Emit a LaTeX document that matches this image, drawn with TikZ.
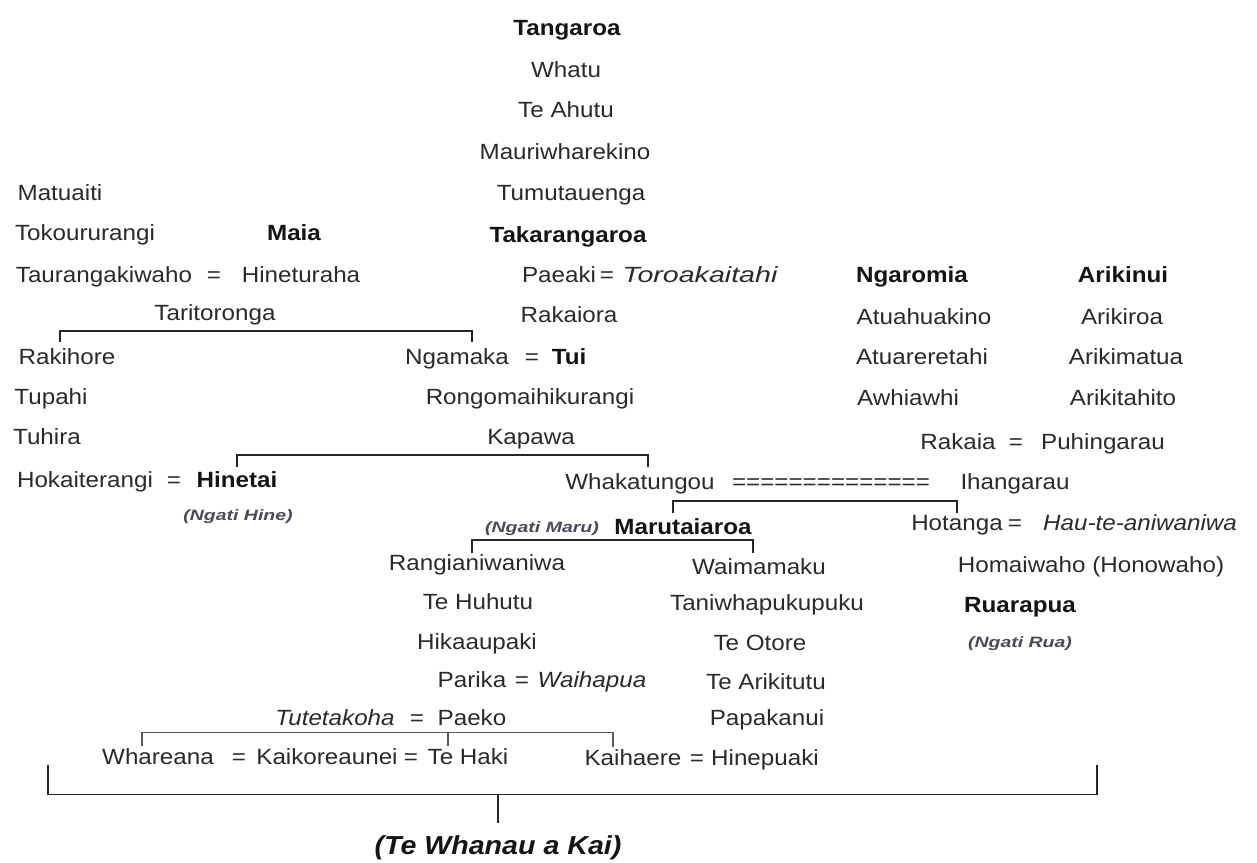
\documentclass[tikz,border=0pt]{standalone}
\usepackage{fontspec}
\setmainfont{Liberation Sans}[FakeStretch=1.1]
\newfontfamily\tribefont{Liberation Sans}[FakeStretch=1.3]
\newfontfamily\widefont{Liberation Sans}[FakeStretch=1.3]
\definecolor{ink}{HTML}{2A2A2A}
\definecolor{inkdark}{HTML}{141414}
\definecolor{inksoft}{HTML}{4A4A5A}
\definecolor{rule}{HTML}{262626}
\definecolor{rulesoft}{HTML}{5A5A5A}

\begin{document}
\begin{tikzpicture}[x=1pt,y=-1pt,
  every node/.style={inner sep=0pt, text height=15.75pt, text depth=0pt, anchor=center},
  nm/.style={font=\fontsize{22}{26}\selectfont, text=ink},
  bnm/.style={font=\fontsize{22}{26}\selectfont\bfseries, text=inkdark},
  inm/.style={font=\fontsize{22}{26}\selectfont\itshape, text=ink},
  winm/.style={font=\widefont\fontsize{22}{26}\selectfont\itshape, text=ink},
  tribe/.style={font=\tribefont\fontsize{15}{18}\selectfont\bfseries\itshape, text=inksoft, text height=10.7pt},
  clan/.style={font=\fontsize{26}{30}\selectfont\bfseries\itshape, text=inkdark, text height=18.6pt},
  conn/.style={draw=rule, line width=1.6pt},
  thinconn/.style={draw=rulesoft, line width=1.1pt},
]
\fill[white] (0,0) rectangle (1257,862);
\useasboundingbox (0,0) rectangle (1257,862);

% --- central line from Tangaroa ---
\node[bnm] (tangaroa) at (567,28) {Tangaroa};
\node[nm]  (whatu)    at (566,70) {Whatu};
\node[nm]  (teahutu)  at (566,110) {Te Ahutu};
\node[nm]  (mauri)    at (565,152) {Mauriwharekino};
\node[nm]  (tumu)     at (571,193) {Tumutauenga};
\node[bnm] (takara)   at (568,235) {Takarangaroa};
\node[nm]  (paeaki)   at (559,275) {Paeaki};
\node[nm]  (eqPaeaki) at (607,275) {=};
\node[winm] (toroa)   at (700,275) {Toroakaitahi};
\node[nm]  (rakaiora) at (569,315) {Rakaiora};
\node[nm]  (ngamaka)  at (457,357) {Ngamaka};
\node[nm]  (eqNgamaka) at (532,357) {=};
\node[bnm] (tui)      at (569,357) {Tui};
\node[nm]  (rongo)    at (530,397) {Rongomaihikurangi};
\node[nm]  (kapawa)   at (531,437) {Kapawa};

% --- left line ---
\node[nm]  (matuaiti) at (60,193) {Matuaiti};
\node[nm]  (tokou)    at (85,233) {Tokoururangi};
\node[bnm] (maia)     at (294,233) {Maia};
\node[nm]  (tauranga) at (104,275) {Taurangakiwaho};
\node[nm]  (eqTaur)   at (214,275) {=};
\node[nm]  (hinet)    at (301,275) {Hineturaha};
\node[nm]  (taritoronga) at (215,313) {Taritoronga};
\node[nm]  (rakihore) at (67,357) {Rakihore};
\node[nm]  (tupahi)   at (51,397) {Tupahi};
\node[nm]  (tuhira)   at (47,437) {Tuhira};
\node[nm]  (hokai)    at (85,480) {Hokaiterangi};
\node[nm]  (eqHoka)   at (174,480) {=};
\node[bnm] (hinetai)  at (237,480) {Hinetai};
\node[tribe] (ngatihine) at (238,515) {(Ngati Hine)};

% --- right lines ---
\node[bnm] (ngaromia)    at (912,275) {Ngaromia};
\node[bnm] (arikinui)    at (1123,275) {Arikinui};
\node[nm]  (atuahuakino) at (924,317) {Atuahuakino};
\node[nm]  (arikiroa)    at (1122,317) {Arikiroa};
\node[nm]  (atuarere)    at (922,357) {Atuareretahi};
\node[nm]  (arikimatua)  at (1126,357) {Arikimatua};
\node[nm]  (awhiawhi)    at (908,398) {Awhiawhi};
\node[nm]  (arikitahito) at (1123,398) {Arikitahito};
\node[nm]  (rakaia)      at (958,442) {Rakaia};
\node[nm]  (eqRakaia)    at (1016,442) {=};
\node[nm]  (puhingarau)  at (1103,442) {Puhingarau};

% --- Whakatungou and Ihangarau ---
\node[nm]  (whakat)    at (640,482) {Whakatungou};
\node[nm]  (marriage)  at (831,482) {==============};
\node[nm]  (ihangarau) at (1015,482) {Ihangarau};

\node[tribe] (ngatimaru) at (542,527) {(Ngati Maru)};
\node[bnm] (marutaiaroa) at (683,527) {Marutaiaroa};
\node[nm]  (hotanga)   at (957,523) {Hotanga};
\node[nm]  (eqHotanga) at (1015,523) {=};
\node[inm] (hau)       at (1140,523) {Hau-te-aniwaniwa};
\node[nm]  (homaiwaho) at (1091,565) {Homaiwaho (Honowaho)};
\node[bnm] (ruarapua)  at (1020,605) {Ruarapua};
\node[tribe] (ngatirua) at (1020,642) {(Ngati Rua)};

% --- descendants of Marutaiaroa ---
\node[nm]  (rangi)      at (477,563) {Rangianiwaniwa};
\node[nm]  (tehuhutu)   at (478,602) {Te Huhutu};
\node[nm]  (hikaau)     at (477,642) {Hikaaupaki};
\node[nm]  (parika)     at (472,680) {Parika};
\node[nm]  (eqParika)   at (522,680) {=};
\node[inm] (waihapua)   at (592,680) {Waihapua};
\node[inm] (tutetakoha) at (335,718) {Tutetakoha};
\node[nm]  (eqTute)     at (417,718) {=};
\node[nm]  (paeko)      at (472,718) {Paeko};

\node[nm]  (waimamaku)  at (759,567) {Waimamaku};
\node[nm]  (taniwha)    at (767,603) {Taniwhapukupuku};
\node[nm]  (teotore)    at (760,643) {Te Otore};
\node[nm]  (tearikitutu) at (766,682) {Te Arikitutu};
\node[nm]  (papakanui)  at (767,718) {Papakanui};

\node[nm]  (whareana)   at (158,757) {Whareana};
\node[nm]  (eqWhare)    at (239,757) {=};
\node[nm]  (kaikore)    at (327,757) {Kaikoreaunei};
\node[nm]  (eqKaikore)  at (411,757) {=};
\node[nm]  (tehaki)     at (468,757) {Te Haki};
\node[nm]  (kaihaere)   at (633,758) {Kaihaere};
\node[nm]  (eqKaihaere) at (697,758) {=};
\node[nm]  (hinepuaki)  at (765,758) {Hinepuaki};

\node[clan] (whanau) at (498,845) {(Te Whanau a Kai)};

% --- connectors ---
% children of Taritoronga
\draw[conn] ([xshift=-7pt,yshift=7pt]rakihore.north) |- ([yshift=-10pt]taritoronga.south)
  -| ([xshift=15pt,yshift=7pt]ngamaka.north);
% children of Kapawa
\draw[conn] ([yshift=5pt]hinetai.north) |- ([yshift=-10pt]kapawa.south)
  -| ([xshift=8pt,yshift=7pt]whakat.north);
% children of Whakatungou and Ihangarau
\draw[conn] ([xshift=-10pt,yshift=6pt]marutaiaroa.north) |- ([yshift=-11pt]marriage.south)
  -| ([yshift=2pt]hotanga.north);
% children of Marutaiaroa
\draw[conn] ([xshift=-5pt,yshift=2pt]rangi.north) |- ([yshift=-5pt]marutaiaroa.south)
  -| ([xshift=-6pt,yshift=6pt]waimamaku.north);
% children of Tutetakoha and Paeko
\draw[thinconn] ([xshift=-16pt,yshift=3pt]whareana.north) |- ([yshift=-6pt]eqTute.south)
  -| ([xshift=-20pt,yshift=3pt]kaihaere.north);
\draw[thinconn] ([xshift=-20pt,yshift=3pt]tehaki.north) |- ([yshift=-6pt]eqTute.south);
% all lines meet in Te Whanau a Kai
\coordinate (leftEnd) at (48,765);
\coordinate (rightEnd) at (1097,765);
\draw[conn] (leftEnd) |- ([yshift=41pt]whanau.north) -| (rightEnd);
\draw[conn] ([yshift=41pt]whanau.north) -- ([yshift=13pt]whanau.north);
\end{tikzpicture}
\end{document}
